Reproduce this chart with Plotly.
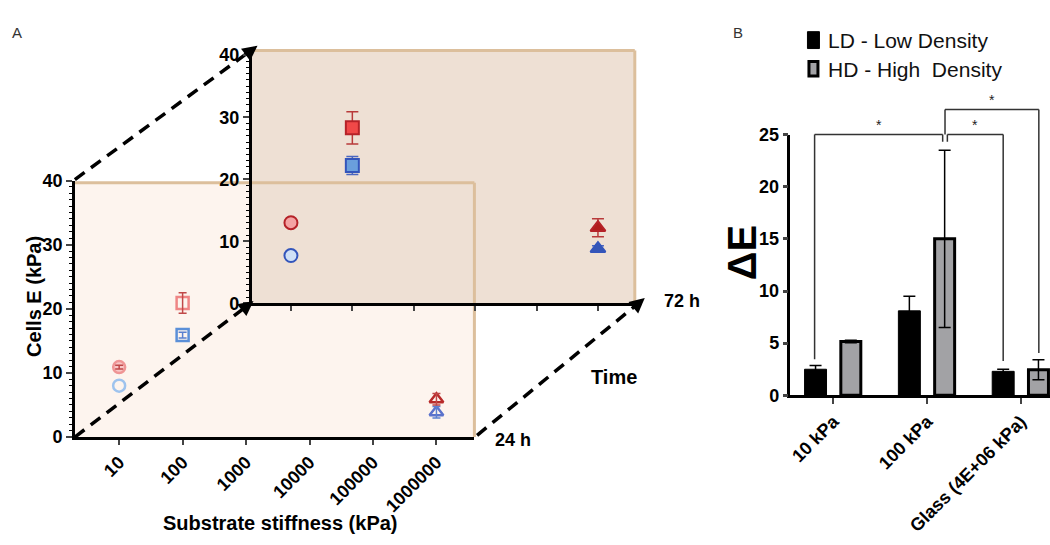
import math
import plotly.graph_objects as go

W, H = 1050, 545
FONT = "Liberation Sans, Arial, Helvetica, sans-serif"

# ---------------- Panel A data ----------------
stiffness_kpa = [10, 100, 1000000]
stiffness_ticks = [10, 100, 1000, 10000, 100000, 1000000]
stiffness_ticktext = ["10", "100", "1000", "10000", "100000", "1000000"]
a_yticks = [0, 10, 20, 30, 40]

e24_red = [10.9, 20.9, 5.9]
e24_red_err = [0.3, 1.6, 0.9]
e24_blue = [8.0, 15.9, 3.85]
e24_blue_err = [None, 0.45, 0.9]

e72_red = [13.0, 28.3, 12.2]
e72_red_err = [None, 2.6, 1.45]
e72_blue = [7.7, 22.2, 8.8]
e72_blue_err = [None, 1.45, 0.5]

# ---------------- Panel B data ----------------
categories = ["10 kPa", "100 kPa", "Glass (4E+06 kPa)"]
ld_values = [2.5, 8.1, 2.3]
ld_err = [0.35, 1.4, 0.2]
hd_values = [5.15, 15.0, 2.45]
hd_err = [0.12, 8.5, 0.95]
b_yticks = [0, 5, 10, 15, 20, 25]
# significance brackets: (left x, right x, level, left leg end, right leg end)
brackets = [
    (-0.2, 1.165, 25.0, 3.45, 24.3),
    (1.215, 1.81, 25.0, 24.3, 3.3),
    (1.19, 2.19, 27.4, 25.0, 4.05),
]


def px(x):
    return x / W


def py(y):
    return 1 - y / H


# layout geometry
back_x_dom = [px(250), px(634)]
back_x_rng = [0.358, 6.60]
back_y_dom = [py(304.5), py(42)]
back_y_rng = [0, 40.76]
front_x_dom = [px(73), px(473.3)]
front_x_rng = [0.302, 6.598]
front_y_dom = [py(443.3), py(177)]
front_y_rng = [0, 40]
b_x_dom = [px(790), 1.0]
b_x_rng = [-0.457, 2.309]
b_y_dom = [py(400), py(129.3)]
b_y_rng = [0, 25]


def yb(v):
    return b_y_dom[0] + (v - b_y_rng[0]) / (b_y_rng[1] - b_y_rng[0]) * (b_y_dom[1] - b_y_dom[0])


fig = go.Figure()


def add_series(xs, ys, errs, xa, ya, marker, err_color, cap):
    idx = [i for i, e in enumerate(errs) if e is not None]
    # error bars first (drawn beneath the markers)
    fig.add_trace(go.Scatter(
        x=[xs[i] for i in idx], y=[ys[i] for i in idx], mode="markers", xaxis=xa, yaxis=ya,
        marker=dict(size=1, opacity=0),
        error_y=dict(type="data", array=[errs[i] for i in idx], color=err_color,
                     thickness=1.5, width=cap),
        showlegend=False, hoverinfo="skip"))
    fig.add_trace(go.Scatter(x=xs, y=ys, mode="markers", xaxis=xa, yaxis=ya,
                             marker=marker, showlegend=False))


# ---- back panel (72 h) ----
add_series(stiffness_kpa, e72_blue, e72_blue_err, "x", "y",
           dict(symbol=["circle", "square", "triangle-up"], size=13,
                color=["#cfe0f6", "#6a9fdc", "#3556b6"], line=dict(color="#3355bb", width=2)),
           "#4a66c0", 6)
add_series(stiffness_kpa, e72_red, e72_red_err, "x", "y",
           dict(symbol=["circle", "square", "triangle-up"], size=13,
                color=["#f4a3a3", "#f04848", "#b01c1c"], line=dict(color="#b52228", width=2)),
           "#b83a3a", 6)

# ---- front panel (24 h) ----
add_series(stiffness_kpa, e24_blue, e24_blue_err, "x2", "y2",
           dict(symbol=["circle-open", "square-open", "triangle-up-open"], size=12,
                color=["#9ec3ee", "#5b8fd8", "#5a72cc"], line=dict(width=2.5)),
           "#5a80d0", 4)
add_series(stiffness_kpa, e24_red, e24_red_err, "x2", "y2",
           dict(symbol=["circle", "square-open", "triangle-up-open"], size=12,
                color=["#f8c6c6", "#ef8585", "#b82a2a"], line=dict(color="#ef9595", width=2.5)),
           "#c04848", 4)
# hollow markers: put the error bars of the front series above so they show through
fig.data[4].update(error_y=dict(visible=False))
fig.data[6].update(error_y=dict(visible=False))
fig.add_trace(go.Scatter(
    x=[stiffness_kpa[i] for i in range(3) if e24_blue_err[i] is not None],
    y=[e24_blue[i] for i in range(3) if e24_blue_err[i] is not None],
    mode="markers", xaxis="x2", yaxis="y2", marker=dict(size=1, opacity=0),
    error_y=dict(type="data", array=[e for e in e24_blue_err if e is not None], color="#5a80d0",
                 thickness=1.5, width=4), showlegend=False, hoverinfo="skip"))
fig.add_trace(go.Scatter(
    x=stiffness_kpa, y=e24_red, mode="markers", xaxis="x2", yaxis="y2", marker=dict(size=1, opacity=0),
    error_y=dict(type="data", array=e24_red_err, color="#c04848", thickness=1.5, width=4),
    showlegend=False, hoverinfo="skip"))

# ---- panel B bars ----
fig.add_trace(go.Bar(
    x=categories, y=ld_values, xaxis="x3", yaxis="y3",
    width=0.234, offset=-0.19 - 0.117,
    marker=dict(color="black", line=dict(color="black", width=1)),
    error_y=dict(type="data", array=ld_err, color="black", thickness=1.5, width=6),
    showlegend=False))
fig.add_trace(go.Bar(
    x=categories, y=hd_values, xaxis="x3", yaxis="y3",
    width=0.213, offset=0.186 - 0.1065,
    marker=dict(color="#a2a2a5", line=dict(color="black", width=3)),
    error_y=dict(type="data", array=hd_err, color="black", thickness=1.5, width=6),
    showlegend=False))

shapes = []
TAN = "#dcbf9c"
# panel fills
shapes.append(dict(type="rect", xref="paper", yref="paper", x0=px(73), x1=px(473.3),
                   y0=py(443.3), y1=py(179.3), fillcolor="#fdf4ee", line_width=0, layer="below"))
shapes.append(dict(type="rect", xref="paper", yref="paper", x0=px(250), x1=px(634),
                   y0=py(304.5), y1=py(42), fillcolor="#eee0d4", line_width=0, layer="below"))


def seg(x0, y0, x1, y1, color, width, dash=None, layer="below"):
    d = dict(type="line", xref="paper", yref="paper", x0=px(x0), y0=py(y0), x1=px(x1), y1=py(y1),
             line=dict(color=color, width=width), layer=layer)
    if dash:
        d["line"]["dash"] = dash
    return d


shapes.append(seg(250, 42, 634, 42, TAN, 3))
shapes.append(seg(634, 42, 634, 304.5, TAN, 3))
shapes.append(seg(73, 179.3, 473.3, 179.3, TAN, 3))
shapes.append(seg(473.3, 179.3, 473.3, 443.3, TAN, 3))

# dashed perspective lines
dash_lines = [((73, 443.3), (252, 302)), ((73, 176), (256, 37)), ((476, 441.5), (644, 299))]
annotations = []
for (sx, sy), (tx, ty) in dash_lines:
    dx, dy = tx - sx, ty - sy
    n = math.hypot(dx, dy)
    ux, uy = dx / n, dy / n
    shapes.append(seg(sx, sy, tx - ux * 6, ty - uy * 6, "black", 3.5, dash="12px,8px"))
    annotations.append(dict(x=px(tx), y=py(ty), xref="paper", yref="paper", text="",
                            showarrow=True, ax=-ux * 12, ay=-uy * 12, arrowhead=2,
                            arrowsize=1.0, arrowwidth=3, arrowcolor="black"))

# significance brackets in panel B
for (x1, x2, lvl, b1, b2) in brackets:
    for (xa, ya, xb, yb_) in [(x1, b1, x1, lvl), (x1, lvl, x2, lvl), (x2, lvl, x2, b2)]:
        shapes.append(dict(type="line", xref="x3", yref="paper", x0=xa, x1=xb, y0=yb(ya), y1=yb(yb_),
                           line=dict(color="#333333", width=1.5), layer="above"))
    annotations.append(dict(x=(x1 + x2) / 2, y=yb(lvl), xref="x3", yref="paper", text="*",
                            showarrow=False, yanchor="bottom", yshift=0,
                            font=dict(family=FONT, size=14, color="#222222")))

# panel B legend
shapes.append(dict(type="rect", xref="paper", yref="paper", x0=px(807), x1=px(819), y0=py(40), y1=py(22.5),
                   fillcolor="black", line=dict(color="black", width=1), layer="above"))
shapes.append(dict(type="rect", xref="paper", yref="paper", x0=px(808.5), x1=px(817.5), y0=py(68.5), y1=py(53.5),
                   fillcolor="#a2a2a5", line=dict(color="black", width=3), layer="above"))


def text(x, y, s, size, bold=False, angle=0, xanchor="center", color="black", family=FONT):
    return dict(x=px(x), y=py(y), xref="paper", yref="paper", text=s, showarrow=False,
                xanchor=xanchor, yanchor="middle", textangle=angle,
                font=dict(family=family, size=size, color=color, weight="bold" if bold else "normal"))


annotations += [
    text(15, 23, "A", 15, color="#333333"),
    text(737, 23, "B", 15, color="#333333"),
    text(826, 31.7, "LD - Low Density", 21, xanchor="left", color="#111111"),
    text(826, 61.7, "HD - High\u00a0 Density", 21, xanchor="left", color="#111111"),
    text(279, 533, "Substrate stiffness (kPa)", 20, bold=True),
    text(32, 297, "Cells\u00a0E\u00a0(kPa)", 20, bold=True, angle=-90),
    text(613, 381, "Time", 20, bold=True),
    text(512, 446, "24 h", 18, bold=True),
    text(681, 302, "72 h", 18, bold=True),
    text(741, 252, "ΔE", 40, bold=True, angle=-90),
]

tickfont_a = dict(family=FONT, size=18, color="black", weight="bold")

fig.update_layout(
    width=W, height=H, margin=dict(l=0, r=0, t=0, b=0),
    paper_bgcolor="white", plot_bgcolor="rgba(0,0,0,0)",
    font=dict(family=FONT, color="black"),
    barmode="group",
    shapes=shapes, annotations=annotations,
    xaxis=dict(domain=back_x_dom, anchor="y", type="log", range=back_x_rng,
               tickvals=stiffness_ticks, showticklabels=False, ticks="outside", ticklen=5,
               tickwidth=1.5, showline=True, linecolor="black", linewidth=2.5,
               showgrid=False, zeroline=False),
    yaxis=dict(domain=back_y_dom, anchor="x", range=back_y_rng, tickvals=a_yticks,
               ticks="outside", ticklen=6, tickwidth=2, showline=True, linecolor="black",
               linewidth=2.5, showgrid=False, zeroline=False, tickfont=tickfont_a,
               minor=dict(dtick=1, ticks="outside", ticklen=3, tickwidth=1, tickcolor="black")),
    xaxis2=dict(domain=front_x_dom, anchor="y2", type="log", range=front_x_rng,
                tickvals=stiffness_ticks, ticktext=stiffness_ticktext, tickangle=-45,
                ticks="outside", ticklen=5, tickwidth=2, showline=True, linecolor="black",
                linewidth=2.5, showgrid=False, zeroline=False,
                tickfont=dict(family=FONT, size=18, color="black", weight="bold")),
    yaxis2=dict(domain=front_y_dom, anchor="x2", range=front_y_rng, tickvals=a_yticks,
                ticks="outside", ticklen=6, tickwidth=2, showline=True, linecolor="black",
                linewidth=2.5, showgrid=False, zeroline=False, tickfont=tickfont_a,
                minor=dict(dtick=1, ticks="outside", ticklen=3, tickwidth=1, tickcolor="black")),
    xaxis3=dict(domain=b_x_dom, anchor="y3", type="category", categoryorder="array",
                categoryarray=categories, range=b_x_rng, tickangle=-45,
                ticks="outside", ticklen=6, tickwidth=2, showline=True, linecolor="black",
                linewidth=2.5, showgrid=False, zeroline=False,
                tickfont=dict(family=FONT, size=18, color="black", weight="bold")),
    yaxis3=dict(domain=b_y_dom, anchor="x3", range=b_y_rng, tickvals=b_yticks,
                ticks="outside", ticklen=5, tickwidth=2.5, showline=True, linecolor="black",
                linewidth=2.5, showgrid=False, zeroline=False,
                tickfont=dict(family=FONT, size=18, color="black", weight="bold")),
)

fig.write_html("out.html", config={"responsive": False, "displayModeBar": False},
               post_script="document.body.style.margin='0';document.body.style.overflow='hidden';")
